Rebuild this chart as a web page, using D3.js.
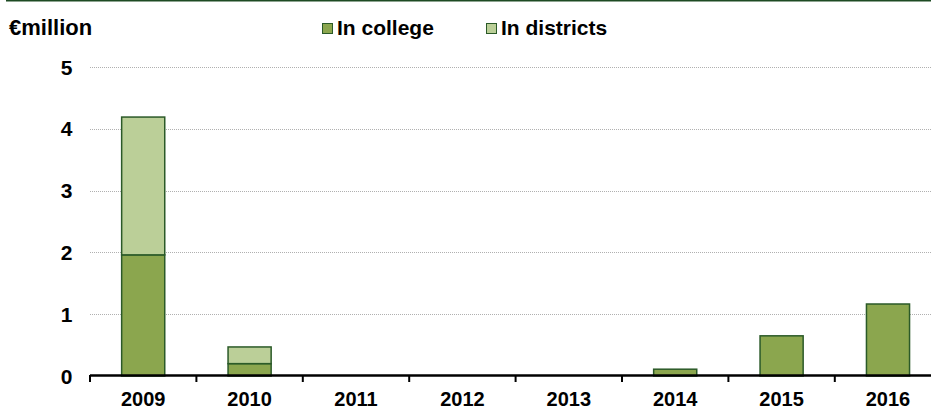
<!DOCTYPE html>
<html>
<head>
<meta charset="utf-8">
<script src="https://cdn.jsdelivr.net/npm/d3@7"></script>
<style>
  body { margin: 0; background: #fff; }
  text { font-family: "Liberation Sans", Arial, sans-serif; font-weight: bold; fill: #000; }
</style>
</head>
<body>
<svg id="chart" width="931" height="409"></svg>
<script>
// Data
var years = ["2009", "2010", "2011", "2012", "2013", "2014", "2015", "2016"];
var inCollege = [1.96, 0.2, 0, 0, 0, 0.11, 0.65, 1.165];
var inDistricts = [2.23, 0.27, 0, 0, 0, 0, 0, 0];
var yTicks = [0, 1, 2, 3, 4, 5];
var seriesNames = ["In college", "In districts"];

var colors = {college: "#8ba64e", districts: "#bbcf98", stroke: "#2b5a28"};

var svg = d3.select("#chart");

// top rule
svg.append("line")
  .attr("x1", 6).attr("x2", 931)
  .attr("y1", 0.75).attr("y2", 0.75)
  .attr("stroke", "#1d4a23")
  .attr("stroke-width", 1.5);

var x = d3.scaleBand()
  .domain(years)
  .range([90, 90 + 106.4 * years.length])
  .paddingInner(0.595)
  .paddingOuter(0.2975);

var y = d3.scaleLinear()
  .domain([0, 5])
  .range([376, 67]);

// gridlines
svg.append("g").selectAll("line")
  .data(yTicks.filter(d => d > 0))
  .enter().append("line")
  .attr("x1", 90).attr("x2", 931)
  .attr("y1", d => Math.round(y(d)) + 0.5)
  .attr("y2", d => Math.round(y(d)) + 0.5)
  .attr("stroke", "#b0b0b0")
  .attr("stroke-width", 1)
  .attr("stroke-dasharray", "1,1");

// y labels
svg.append("g").selectAll("text")
  .data(yTicks)
  .enter().append("text")
  .attr("x", 72.5)
  .attr("y", d => y(d) + 7.5)
  .attr("text-anchor", "end")
  .style("font-size", "21px")
  .text(d => d);

// stacked bars
var rows = years.map((yr, i) => ({year: yr, college: inCollege[i], districts: inDistricts[i]}));
var stack = d3.stack().keys(["college", "districts"])(rows);

svg.append("g").selectAll("g")
  .data(stack)
  .enter().append("g")
  .attr("fill", d => colors[d.key])
  .selectAll("rect")
  .data(d => d.filter(p => p[1] - p[0] > 0))
  .enter().append("rect")
  .attr("x", d => x(d.data.year))
  .attr("y", d => y(d[1]))
  .attr("width", x.bandwidth())
  .attr("height", d => y(d[0]) - y(d[1]))
  .attr("stroke", colors.stroke)
  .attr("stroke-width", 1.5);

// x axis
var axisG = svg.append("g");
axisG.append("line")
  .attr("x1", 90).attr("x2", 931)
  .attr("y1", 375.5).attr("y2", 375.5)
  .attr("stroke", "#000").attr("stroke-width", 2.5);
axisG.selectAll("line.tick")
  .data(d3.range(years.length + 1))
  .enter().append("line")
  .attr("class", "tick")
  .attr("x1", i => 90 + i * x.step())
  .attr("x2", i => 90 + i * x.step())
  .attr("y1", 375).attr("y2", 382)
  .attr("stroke", "#000").attr("stroke-width", 2);
axisG.selectAll("text")
  .data(years)
  .enter().append("text")
  .attr("x", d => x(d) + x.bandwidth() / 2)
  .attr("y", 405.5)
  .attr("text-anchor", "middle")
  .style("font-size", "20px")
  .text(d => d);

// unit label
svg.append("text")
  .attr("x", 9).attr("y", 35)
  .style("font-size", "22px")
  .text("€million");

// legend
var legendX = [322, 486];
var legend = svg.append("g").selectAll("g")
  .data(seriesNames)
  .enter().append("g")
  .attr("transform", (d, i) => "translate(" + legendX[i] + ",0)");
legend.append("rect")
  .attr("x", 0.5).attr("y", 23.5)
  .attr("width", 10).attr("height", 10)
  .attr("fill", (d, i) => i === 0 ? colors.college : colors.districts)
  .attr("stroke", colors.stroke)
  .attr("stroke-width", 1);
legend.append("text")
  .attr("x", 15).attr("y", 35)
  .style("font-size", "21px")
  .text(d => d);
</script>
</body>
</html>
